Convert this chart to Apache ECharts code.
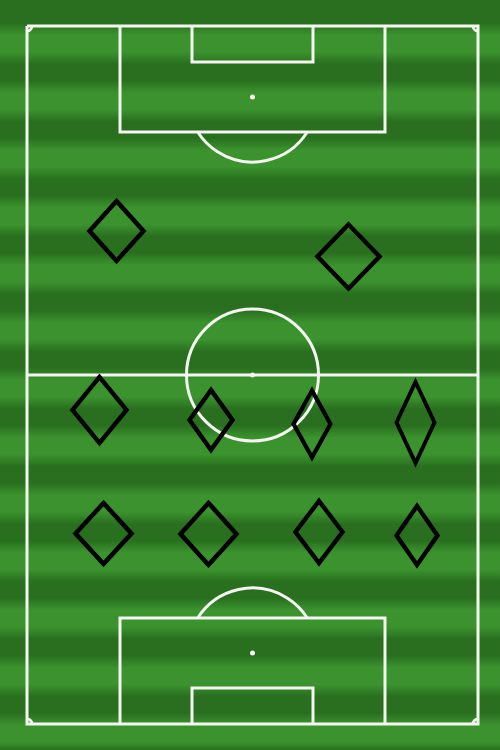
<!DOCTYPE html>
<html>
<head>
<meta charset="utf-8">
<script src="https://cdn.jsdelivr.net/npm/echarts@6/dist/echarts.min.js"></script>
<style>html,body{margin:0;padding:0;background:#2f7d24;}#c{width:500px;height:750px;}</style>
</head>
<body>
<div id="c"></div>
<script>
// Player markers: position on the pitch image (px units) and diamond size
const playerX = [116.5, 348.5, 99.5, 211, 312, 415.5, 103.5, 208.5, 319, 417];
const playerY = [231, 256.5, 410, 420, 424, 422.5, 533.5, 534, 532, 535.5];
const markerW = [54, 62, 54, 43, 37, 38, 56, 56, 47, 41];
const markerH = [60, 64, 66, 60, 67, 81, 61, 62, 62, 59];

const players = playerX.map((x, i) => [x, playerY[i], markerW[i], markerH[i]]);

// pitch geometry (layout)
const P = {
  left: 27, right: 478, top: 26, bottom: 724, mid: 375, cx: 252.5,
  boxL: 120, boxR: 385, boxDepth: 106, goalL: 192, goalR: 313, goalDepth: 36,
  spotDist: 71, arcR: 65, circleR: 66, cornerR: 5
};

const light = '#3b922e', dark = '#296f1f';
function stripeStops() {
  const H = 750, stops = [{offset: 0, color: dark}];
  for (let k = -1; k < 14; k++) {
    const s = 29 + 57.5 * k, e = s + 29;
    [[s - 6, dark], [s + 6, light], [e - 6, light], [e + 6, dark]].forEach(([y, c]) => {
      if (y > 0 && y < H) stops.push({offset: y / H, color: c});
    });
  }
  stops.push({offset: 1, color: dark});
  return stops;
}

const chart = echarts.init(document.getElementById('c'));
const lineStyle = {stroke: '#f3f5ef', lineWidth: 3, fill: null};

function renderPitch(params, api) {
  const c = p => api.coord(p);
  const kids = [];
  const poly = pts => kids.push({type: 'polyline', shape: {points: pts.map(c)}, style: lineStyle});
  const arc = (x, y, r, a0, a1) => {
    const p = c([x, y]);
    kids.push({type: 'arc', shape: {cx: p[0], cy: p[1], r: r, startAngle: a0, endAngle: a1, clockwise: true}, style: lineStyle});
  };
  const spot = (x, y) => {
    const p = c([x, y]);
    kids.push({type: 'circle', shape: {cx: p[0], cy: p[1], r: 2.5}, style: {fill: '#f3f5ef'}});
  };
  poly([[P.left, P.top], [P.right, P.top], [P.right, P.bottom], [P.left, P.bottom], [P.left, P.top]]);
  poly([[P.left, P.mid], [P.right, P.mid]]);
  poly([[P.boxL, P.top], [P.boxL, P.top + P.boxDepth], [P.boxR, P.top + P.boxDepth], [P.boxR, P.top]]);
  poly([[P.goalL, P.top], [P.goalL, P.top + P.goalDepth], [P.goalR, P.top + P.goalDepth], [P.goalR, P.top]]);
  poly([[P.boxL, P.bottom], [P.boxL, P.bottom - P.boxDepth], [P.boxR, P.bottom - P.boxDepth], [P.boxR, P.bottom]]);
  poly([[P.goalL, P.bottom], [P.goalL, P.bottom - P.goalDepth], [P.goalR, P.bottom - P.goalDepth], [P.goalR, P.bottom]]);
  const cc = c([P.cx, P.mid]);
  kids.push({type: 'circle', shape: {cx: cc[0], cy: cc[1], r: P.circleR}, style: lineStyle});
  const a = Math.asin((P.boxDepth - P.spotDist) / P.arcR);
  arc(P.cx, P.top + P.spotDist, P.arcR, a, Math.PI - a);
  arc(P.cx, P.bottom - P.spotDist, P.arcR, Math.PI + a, 2 * Math.PI - a);
  arc(P.left, P.top, P.cornerR, 0, Math.PI / 2);
  arc(P.right, P.top, P.cornerR, Math.PI / 2, Math.PI);
  arc(P.left, P.bottom, P.cornerR, -Math.PI / 2, 0);
  arc(P.right, P.bottom, P.cornerR, Math.PI, 1.5 * Math.PI);
  spot(P.cx, P.top + P.spotDist);
  spot(P.cx, P.mid);
  spot(P.cx, P.bottom - P.spotDist);
  return {type: 'group', children: kids};
}

chart.setOption({
  animation: false,
  backgroundColor: new echarts.graphic.LinearGradient(0, 0, 0, 1, stripeStops()),
  grid: {left: 0, right: 0, top: 0, bottom: 0},
  xAxis: {type: 'value', min: 0, max: 500, show: false},
  yAxis: {type: 'value', min: 0, max: 750, inverse: true, show: false},
  series: [
    {
      type: 'custom',
      renderItem: renderPitch,
      data: [[0, 0]],
      silent: true,
      z: 1
    },
    {
      type: 'scatter',
      data: players,
      symbol: 'diamond',
      symbolSize: v => [v[2], v[3]],
      itemStyle: {color: 'rgba(0,0,0,0)', borderColor: '#000', borderWidth: 4.5, borderJoin: 'miter', opacity: 1},
      z: 3
    }
  ]
});
</script>
</body>
</html>
